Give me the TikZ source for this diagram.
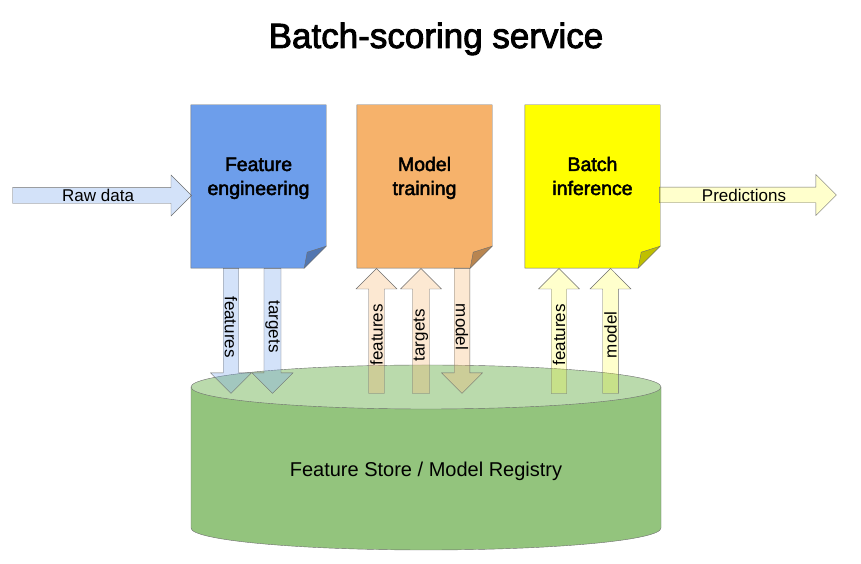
\documentclass[tikz,border=0pt]{standalone}
\usepackage{fontspec}
\setmainfont{Liberation Sans}
\newfontfamily\medfont{Liberation Sans}[FakeBold=2.5]
\usepackage{tikz}
\usetikzlibrary{shapes.arrows, positioning, calc}

\definecolor{featblue}{RGB}{109, 158, 235}
\definecolor{trainorange}{RGB}{246, 178, 107}
\definecolor{inferyellow}{RGB}{255, 255, 0}
\definecolor{storegreen}{RGB}{147, 196, 125}
\definecolor{storetop}{RGB}{186, 218, 172}
\definecolor{linegray}{RGB}{110, 110, 110}

\tikzset{
  docbox/.style={minimum width=135pt, minimum height=163pt, inner sep=0pt},
  doclabel/.style={font=\medfont\fontsize{19.5}{24}\selectfont, align=center, anchor=base},
  flow/.style={single arrow, draw=linegray, fill=#1, fill opacity=0.3, text opacity=1,
    minimum width=41pt, single arrow head extend=10.5pt, inner sep=0pt,
    font=\fontsize{17}{17}\selectfont},
  vflow/.style={flow=#1, minimum height=125pt},
}

\begin{document}
\begin{tikzpicture}[x=1pt, y=1pt]
  \useasboundingbox (0,0) rectangle (861,564);

  % Title
  \node[font=\medfont\fontsize{35}{35}\selectfont, anchor=base] (title) at (436,516) {Batch-scoring service};

  % Stages
  \node[docbox] (feat) at (258.5,377.5) {};
  \node[docbox] (train) at (424.5,377.5) {};
  \node[docbox] (infer) at (592.5,377.5) {};
  \foreach \n/\c in {feat/featblue, train/trainorange, infer/inferyellow}{
    \filldraw[fill=\c, draw=linegray] (\n.north west) -- (\n.north east) -- ([yshift=22pt]\n.south east)
      -- ([xshift=-22pt]\n.south east) -- (\n.south west) -- cycle;
    \filldraw[fill=\c!75!black, draw=linegray] ([yshift=22pt]\n.south east)
      -- ([xshift=-19pt, yshift=16pt]\n.south east) -- ([xshift=-22pt]\n.south east) -- cycle;
  }
  \node[doclabel] (featlabel) at ([yshift=-8.5pt]feat.center) {Feature\\engineering};
  \node[doclabel] (trainlabel) at ([yshift=-8.5pt]train.center) {Model\\training};
  \node[doclabel] (inferlabel) at ([yshift=-8.5pt]infer.center) {Batch\\inference};

  % Store
  \fill[storegreen] (191,177) -- (191,36) arc[start angle=180, end angle=360, x radius=235, y radius=22] -- (661,177) -- cycle;
  \draw[linegray] (191,177) -- (191,36) arc[start angle=180, end angle=360, x radius=235, y radius=22] -- (661,177);
  \filldraw[fill=storetop, draw=linegray] (426,177) ellipse[x radius=235, y radius=22];
  \node[font=\fontsize{20}{20}\selectfont] (store) at (426,93) {Feature Store / Model Registry};

  % In and out
  \node[flow=featblue, minimum height=179pt, anchor=tip] (raw) at ([xshift=1pt, yshift=-9pt]feat.west) {Raw data};
  \node[flow=inferyellow, fill opacity=0.2, minimum height=177pt, anchor=tail] (pred) at ([xshift=-1pt, yshift=-8.5pt]infer.east) {Predictions};

  % Store traffic
  \node[vflow=featblue, rotate=-90, anchor=tail] (featout) at ([xshift=-27.5pt]feat.south) {features};
  \node[vflow=featblue, rotate=-90, anchor=tail] (targout) at ([xshift=14pt]feat.south) {targets};
  \node[vflow=trainorange, rotate=90, anchor=tip] (featin) at ([xshift=-48pt]train.south) {features};
  \node[vflow=trainorange, rotate=90, anchor=tip] (targin) at ([xshift=-3.5pt]train.south) {targets};
  \node[vflow=trainorange, rotate=-90, anchor=tail] (modelout) at ([xshift=37.5pt]train.south) {model};
  \node[vflow=inferyellow, fill opacity=0.2, rotate=90, anchor=tip] (featinf) at ([xshift=-33.5pt]infer.south) {features};
  \node[vflow=inferyellow, fill opacity=0.2, rotate=90, anchor=tip] (modelinf) at ([xshift=18pt]infer.south) {model};
\end{tikzpicture}
\end{document}
